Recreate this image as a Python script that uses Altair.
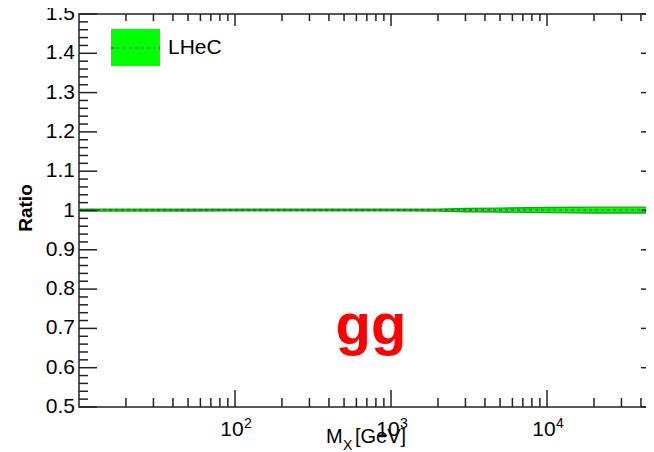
import altair as alt
import pandas as pd

# ---- data ----
mx = [10, 20, 50, 100, 200, 500, 1000, 2000, 3000, 5000, 10000, 20000, 48500]
ratio = [1.001, 1.001, 1.001, 1.001, 1.001, 1.001, 1.001, 1.001, 1.001, 1.001, 1.001, 1.001, 1.001]
lower = [0.9985, 0.9985, 0.9988, 0.999, 0.999, 0.999, 0.999, 0.9985, 0.997, 0.996, 0.9945, 0.9935, 0.9935]
upper = [1.0035, 1.0035, 1.0032, 1.003, 1.003, 1.003, 1.003, 1.0035, 1.005, 1.006, 1.0075, 1.0085, 1.0085]

y_major = [0.5, 0.6, 0.7, 0.8, 0.9, 1.0, 1.1, 1.2, 1.3, 1.4, 1.5]
y_labels = ["0.5", "0.6", "0.7", "0.8", "0.9", "1", "1.1", "1.2", "1.3", "1.4", "1.5"]
y_minor = [0.52, 0.54, 0.56, 0.58, 0.62, 0.64, 0.66, 0.68, 0.72, 0.74, 0.76, 0.78,
           0.82, 0.84, 0.86, 0.88, 0.92, 0.94, 0.96, 0.98, 1.02, 1.04, 1.06, 1.08,
           1.12, 1.14, 1.16, 1.18, 1.22, 1.24, 1.26, 1.28, 1.32, 1.34, 1.36, 1.38,
           1.42, 1.44, 1.46, 1.48]
x_major = [100, 1000, 10000]
x_exp = ["2", "3", "4"]
x_minor = [20, 30, 40, 50, 60, 70, 80, 90, 200, 300, 400, 500, 600, 700, 800, 900,
           2000, 3000, 4000, 5000, 6000, 7000, 8000, 9000, 20000, 30000, 40000]

legend_label = ["LHeC"]
process_label = ["gg"]

W, H = 575, 393
FONT = "Liberation Sans"
AX = "#222222"

band_df = pd.DataFrame({"mx": mx, "ratio": ratio, "lower": lower, "upper": upper})
ymaj_df = pd.DataFrame({"v": y_major, "t": y_labels})
ymin_df = pd.DataFrame({"v": y_minor})
xmaj_df = pd.DataFrame({"v": x_major, "e": x_exp})
xmin_df = pd.DataFrame({"v": x_minor})
one = pd.DataFrame({"a": [0]})

xs = alt.Scale(type="log", domain=[10, 48500], nice=False)
ys = alt.Scale(domain=[0.5, 1.5], nice=False, zero=False)

X = lambda f: alt.X(f, scale=xs, axis=None)
Y = lambda f: alt.Y(f, scale=ys, axis=None)

band = alt.Chart(band_df).mark_area(color="#00ff00", opacity=1).encode(
    x=X("mx:Q"), y=Y("lower:Q"), y2="upper:Q")
edge_lo = alt.Chart(band_df).mark_line(color="#1f9f1f", strokeWidth=1.4).encode(
    x=X("mx:Q"), y=Y("lower:Q"))
edge_hi = alt.Chart(band_df).mark_line(color="#1f9f1f", strokeWidth=1.4).encode(
    x=X("mx:Q"), y=Y("upper:Q"))
center = alt.Chart(band_df).mark_line(color="#008000", strokeWidth=1.5, strokeDash=[3, 3]).encode(
    x=X("mx:Q"), y=Y("ratio:Q"))

def yticks(df, length, side):
    if side == "left":
        x1, x2 = 0, length
    else:
        x1, x2 = W, W - length
    return alt.Chart(df).mark_rule(color=AX, strokeWidth=1.5).encode(
        y=Y("v:Q"), x=alt.value(x1), x2=alt.value(x2))

def xticks(df, length, side):
    if side == "bottom":
        y1, y2 = H, H - length
    else:
        y1, y2 = 0, length
    return alt.Chart(df).mark_rule(color=AX, strokeWidth=1.5).encode(
        x=X("v:Q"), y=alt.value(y1), y2=alt.value(y2))

ticks = [
    yticks(ymaj_df, 18, "left"), yticks(ymin_df, 9, "left"),
    yticks(ymaj_df, 13, "right"), yticks(ymin_df, 6, "right"),
    xticks(xmaj_df, 17, "bottom"), xticks(xmin_df, 9, "bottom"),
    xticks(xmaj_df, 12, "top"), xticks(xmin_df, 7, "top"),
]

ylab = alt.Chart(ymaj_df).mark_text(align="right", baseline="middle", font=FONT,
                                    fontSize=21, color="#000000", dx=-4).encode(
    y=Y("v:Q"), x=alt.value(0), text="t:N")
xlab = alt.Chart(xmaj_df).mark_text(align="center", baseline="alphabetic", font=FONT,
                                    fontSize=21, color="#000000", dx=-3).encode(
    x=X("v:Q"), y=alt.value(H + 29), text=alt.value("10"))
xexp = alt.Chart(xmaj_df).mark_text(align="left", baseline="alphabetic", font=FONT,
                                    fontSize=14, color="#000000", dx=9).encode(
    x=X("v:Q"), y=alt.value(H + 21), text="e:N")

ytitle = alt.Chart(one).mark_text(align="center", baseline="middle", font=FONT, fontSize=19,
                                  fontWeight="bold", angle=270, color="#000000").encode(
    x=alt.value(-53), y=alt.value(194), text=alt.value("Ratio"))
xt_m = alt.Chart(one).mark_text(align="left", baseline="alphabetic", font=FONT, fontSize=20,
                                color="#000000").encode(
    x=alt.value(247), y=alt.value(H + 36), text=alt.value("M"))
xt_x = alt.Chart(one).mark_text(align="left", baseline="alphabetic", font=FONT, fontSize=14,
                                color="#000000").encode(
    x=alt.value(264), y=alt.value(H + 43), text=alt.value("X"))
xt_g = alt.Chart(one).mark_text(align="left", baseline="alphabetic", font=FONT, fontSize=20,
                                color="#000000").encode(
    x=alt.value(276), y=alt.value(H + 36), text=alt.value("[GeV]"))

leg_box = alt.Chart(one).mark_rect(color="#00ff00").encode(
    x=alt.value(32), x2=alt.value(81), y=alt.value(15), y2=alt.value(52))
leg_line = alt.Chart(one).mark_rule(color="#008000", strokeWidth=1.5, strokeDash=[3, 3]).encode(
    x=alt.value(32), x2=alt.value(81), y=alt.value(34))
leg_text = alt.Chart(pd.DataFrame({"t": legend_label})).mark_text(
    align="left", baseline="middle", font=FONT, fontSize=21, color="#000000").encode(
    x=alt.value(89), y=alt.value(34), text="t:N")

gg = alt.Chart(pd.DataFrame({"t": process_label})).mark_text(
    align="center", baseline="alphabetic", font=FONT, fontSize=58, fontWeight="bold",
    color="#ff0000").encode(x=alt.value(292), y=alt.value(330), text="t:N")

chart = alt.layer(
    band, edge_lo, edge_hi, center, *ticks, ylab, xlab, xexp, ytitle, xt_m, xt_x, xt_g,
    leg_box, leg_line, leg_text, gg
).properties(
    width=W, height=H,
    autosize=alt.AutoSizeParams(type="none"),
    padding={"left": 71, "top": 6, "right": -8, "bottom": 45},
    background="white",
).configure_view(stroke=AX, strokeWidth=1.5)

chart.save("out.html", embed_options={"renderer": "svg", "actions": False})
